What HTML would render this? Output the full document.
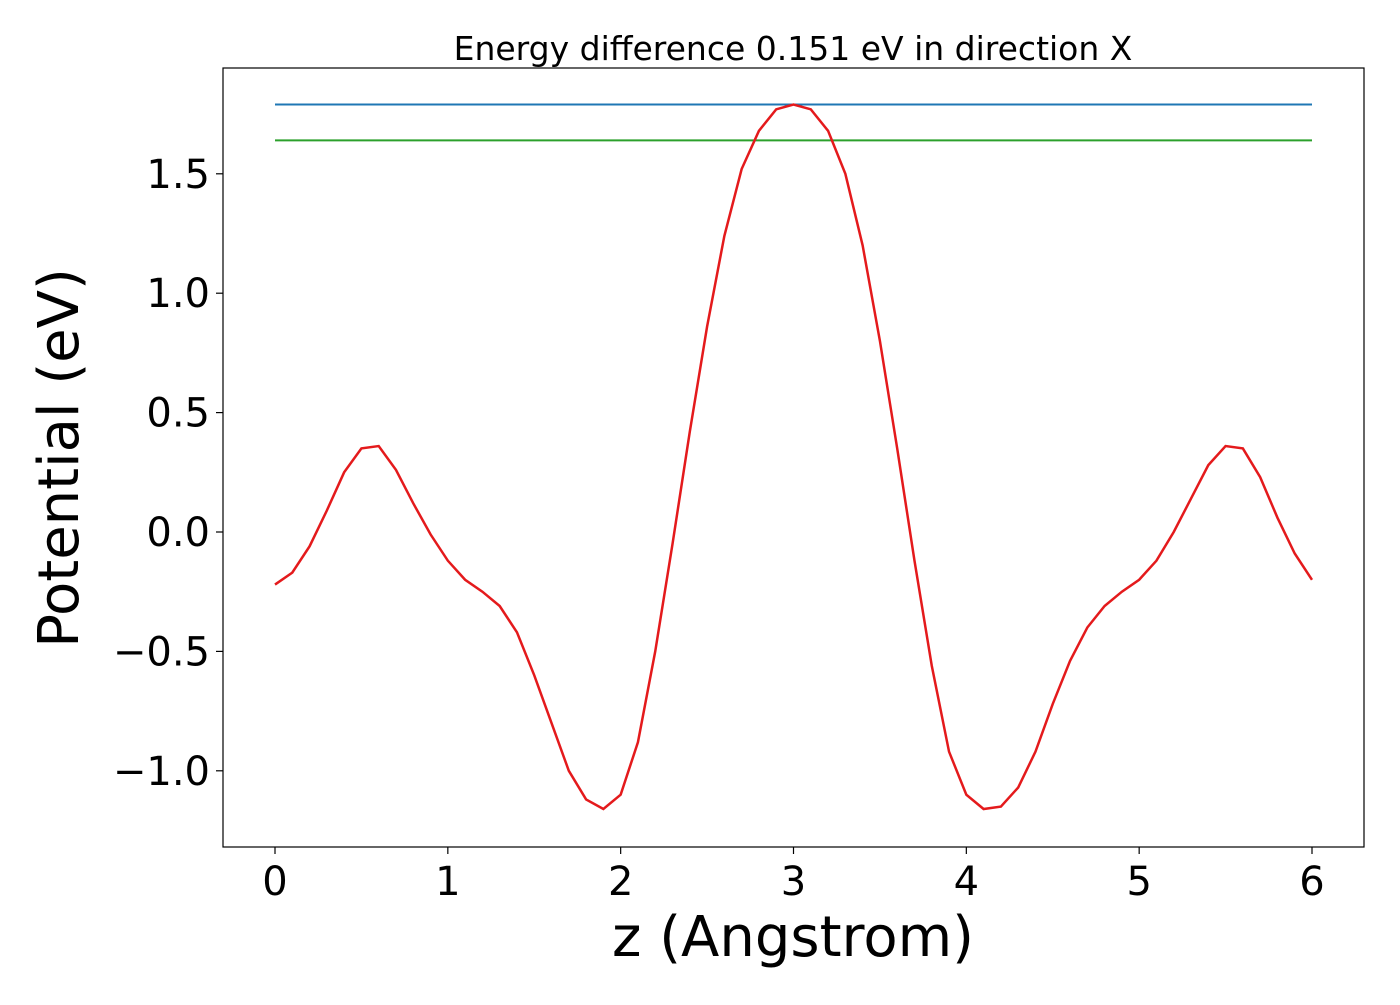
<!DOCTYPE html>
<html><head><meta charset="utf-8"><style>
body{margin:0;background:#fff;}
svg text{font-family:"DejaVu Sans","Liberation Sans",sans-serif;fill:#000;}
</style></head><body>
<svg id="chart" width="1400" height="1000" xmlns="http://www.w3.org/2000/svg">
<rect x="223" y="68" width="1141" height="779" fill="none" stroke="#000" stroke-width="1.2"/>
<text x="793" y="60" font-size="33" text-anchor="middle">Energy difference 0.151 eV in direction X</text>
<text x="793" y="956" font-size="56" text-anchor="middle">z (Angstrom)</text>
<text transform="translate(78,458) rotate(-90)" font-size="56" text-anchor="middle">Potential (eV)</text>
<g id="ticks"></g>
<g id="marks"></g>
</svg>
<script>
const xTicks=[0,1,2,3,4,5,6];
const yTicks=[-1.0,-0.5,0.0,0.5,1.0,1.5];
const yTickLabels=["\u22121.0","\u22120.5","0.0","0.5","1.0","1.5"];
const zValues=[0,0.1,0.2,0.3,0.4,0.5,0.6,0.7,0.8,0.9,1.0,1.1,1.2,1.3,1.4,1.5,1.6,1.7,1.8,1.9,2.0,2.1,2.2,2.3,2.4,2.5,2.6,2.7,2.8,2.9,3.0,3.1,3.2,3.3,3.4,3.5,3.6,3.7,3.8,3.9,4.0,4.1,4.2,4.3,4.4,4.5,4.6,4.7,4.8,4.9,5.0,5.1,5.2,5.3,5.4,5.5,5.6,5.7,5.8,5.9,6.0];
const potential=[-0.22,-0.17,-0.06,0.09,0.25,0.35,0.36,0.26,0.12,-0.01,-0.12,-0.2,-0.25,-0.31,-0.42,-0.6,-0.8,-1.0,-1.12,-1.16,-1.1,-0.88,-0.5,-0.05,0.42,0.86,1.24,1.52,1.68,1.77,1.79,1.77,1.68,1.5,1.2,0.8,0.35,-0.12,-0.56,-0.92,-1.1,-1.16,-1.15,-1.07,-0.92,-0.72,-0.54,-0.4,-0.31,-0.25,-0.2,-0.12,0.0,0.14,0.28,0.36,0.35,0.23,0.06,-0.09,-0.2];
const maxLevel=[1.79];
const minLevel=[1.64];
const NS="http://www.w3.org/2000/svg";
const X=v=>275+v*(1312-275)/6;
const Y=v=>532-v*238.8;
const ticks=document.getElementById('ticks'), marks=document.getElementById('marks');
function mk(tag,attrs,parent){const e=document.createElementNS(NS,tag);for(const k in attrs)e.setAttribute(k,attrs[k]);parent.appendChild(e);return e;}
xTicks.forEach(t=>{
  const l=mk('line',{x1:X(t),x2:X(t),y1:847,y2:854,stroke:'#000','stroke-width':1.2},ticks);
  
  
  const tx=mk('text',{x:X(t),y:895,'font-size':40,'text-anchor':'middle'},ticks);
  tx.textContent=t;
  
  
});
yTicks.forEach((t,i)=>{
  const l=mk('line',{x1:216,x2:223,y1:Y(t),y2:Y(t),stroke:'#000','stroke-width':1.2},ticks);
  
  
  const tx=mk('text',{x:210,y:Y(t)+14,'font-size':40,'text-anchor':'end'},ticks);
  tx.textContent=yTickLabels[i];
  
  
});
const b=mk('line',{x1:X(0),x2:X(6),y1:Y(maxLevel[0]),y2:Y(maxLevel[0]),stroke:'#1f77b4','stroke-width':2},marks);


const g=mk('line',{x1:X(0),x2:X(6),y1:Y(minLevel[0]),y2:Y(minLevel[0]),stroke:'#2ca02c','stroke-width':2},marks);


const p=mk('polyline',{points:zValues.map((z,i)=>X(z)+','+Y(potential[i])).join(' '),fill:'none',stroke:'#e41a1c','stroke-width':2.5},marks);


</script>
</body></html>
